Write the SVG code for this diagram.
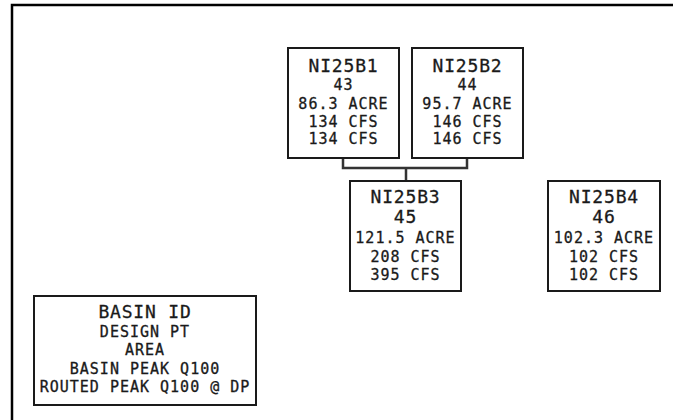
<svg xmlns="http://www.w3.org/2000/svg" width="673" height="420" viewBox="0 0 673 420">
<style>
.box{fill:#fff;stroke:#1a1a1a;stroke-width:2}
.frame{fill:none;stroke:#000;stroke-width:2.5}
.conn{fill:none;stroke:#333;stroke-width:2.5}
text{font-family:"DejaVu Sans Mono","Liberation Mono",monospace;fill:#1a1a1a;text-anchor:middle;stroke:#1a1a1a;stroke-width:0.3}
.t{font-size:18px;letter-spacing:0.8px}
.s{font-size:15px;letter-spacing:1px}
</style>
<rect width="673" height="420" fill="#fff"/>
<path class="frame" d="M12,420 V5 H673"/>
<g id="connectors">
<path class="conn" d="M343,158 V168 H467 V158 M406,168 V181"/>
</g>
<g id="NI25B1">
<rect class="box" x="288" y="48" width="111" height="110"/>
<text class="t" x="343.5" y="72">NI25B1</text>
<text class="s" x="343.5" y="90">43</text>
<text class="s" x="343.5" y="109">86.3 ACRE</text>
<text class="s" x="343.5" y="127">134 CFS</text>
<text class="s" x="343.5" y="144">134 CFS</text>
</g>
<g id="NI25B2">
<rect class="box" x="412" y="48" width="111" height="110"/>
<text class="t" x="467.5" y="72">NI25B2</text>
<text class="s" x="467.5" y="90">44</text>
<text class="s" x="467.5" y="109">95.7 ACRE</text>
<text class="s" x="467.5" y="127">146 CFS</text>
<text class="s" x="467.5" y="144">146 CFS</text>
</g>
<g id="NI25B3">
<rect class="box" x="350" y="181" width="111" height="110"/>
<text class="t" x="405.5" y="203">NI25B3</text>
<text class="t" x="405.5" y="223">45</text>
<text class="s" x="405.5" y="243">121.5 ACRE</text>
<text class="s" x="405.5" y="262">208 CFS</text>
<text class="s" x="405.5" y="280">395 CFS</text>
</g>
<g id="NI25B4">
<rect class="box" x="548" y="181" width="112" height="110"/>
<text class="t" x="604" y="203">NI25B4</text>
<text class="t" x="604" y="223">46</text>
<text class="s" x="604" y="243">102.3 ACRE</text>
<text class="s" x="604" y="262">102 CFS</text>
<text class="s" x="604" y="280">102 CFS</text>
</g>
<g id="legend">
<rect class="box" x="34" y="296" width="222" height="109"/>
<text class="t" x="145" y="318">BASIN ID</text>
<text class="s" x="145" y="337">DESIGN PT</text>
<text class="s" x="145" y="355">AREA</text>
<text class="s" x="145" y="374">BASIN PEAK Q100</text>
<text class="s" x="145" y="392">ROUTED PEAK Q100 @ DP</text>
</g>
</svg>
